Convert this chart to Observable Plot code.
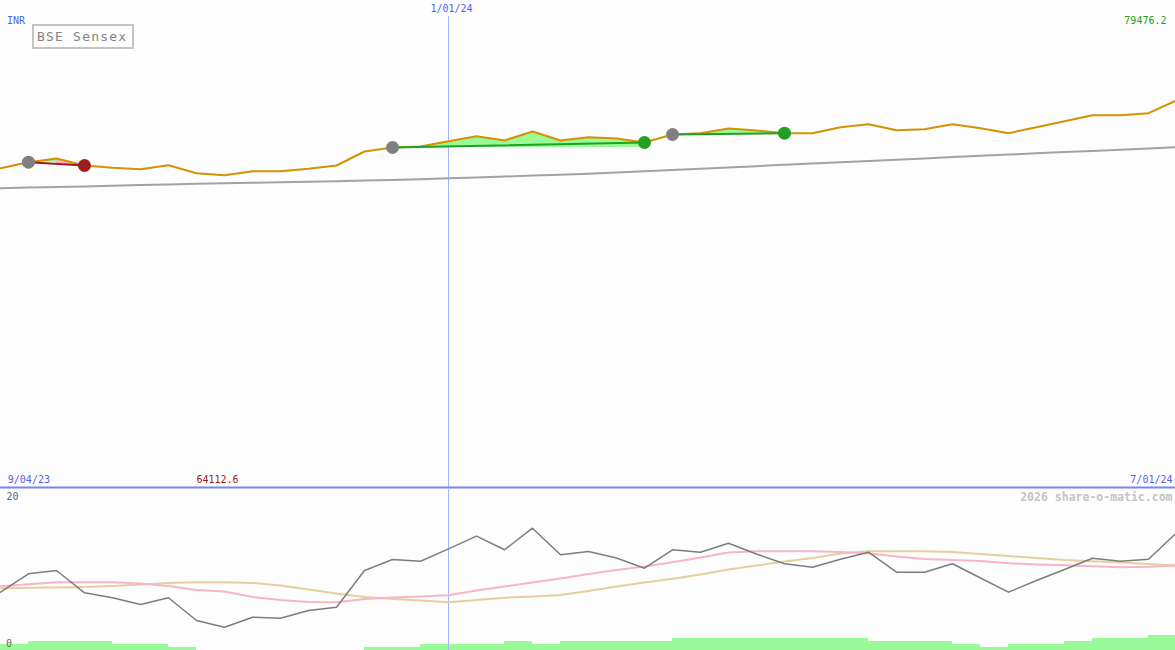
<!DOCTYPE html>
<html><head><meta charset="utf-8">
<script src="https://cdn.jsdelivr.net/npm/d3@7"></script>
<script src="https://cdn.jsdelivr.net/npm/@observablehq/plot@0.6"></script>
<style>
html,body{margin:0;padding:0;background:#fcfdfc;}
#wrap{position:relative;width:1175px;height:650px;overflow:hidden;background:#fcfdfc;}
#wrap svg{display:block;}
#title{position:absolute;left:32px;top:24px;width:102px;height:25px;box-sizing:border-box;border:2px solid #c4c4c4;color:#858585;font:13px "DejaVu Sans Mono",monospace;letter-spacing:1.2px;line-height:21px;padding-left:3px;white-space:nowrap;}
</style></head><body>
<div id="wrap"><div id="title">BSE Sensex</div></div>
<script>
// ---- data (weekly) ----
const close = [65565, 66797, 67557, 66119, 65647, 65360, 66181, 64538, 64112.6, 64949,
  64949, 65442, 66119, 68994, 69816, 70021, 71110, 72137, 71254, 73101,
  71254, 71931, 71664, 70842, 72485, 72752, 73717, 73306, 72752, 72752,
  73984, 74600, 73368, 73574, 74600, 73779, 72752, 73984, 75216, 76448,
  76448, 76859, 79476.2];
const movingAvg = [61458, 61580, 61700, 61830, 61960, 62090, 62230, 62362, 62470, 62580,
  62690, 62800, 62910, 63020, 63142, 63300, 63480, 63670, 63860, 64050,
  64230, 64415, 64660, 64920, 65180, 65450, 65720, 65990, 66263, 66530,
  66790, 67060, 67320, 67580, 67850, 68111, 68360, 68620, 68870, 69120,
  69370, 69620, 69877];
const oscillator = [7.29, 9.59, 10.0, 7.21, 6.59, 5.75, 6.59, 3.75, 2.91, 4.16,
  4.04, 5.0, 5.41, 10.0, 11.38, 11.16, 12.71, 14.29, 12.59, 15.29,
  11.96, 12.38, 11.56, 10.29, 12.59, 12.29, 13.41, 12.06, 10.84, 10.41,
  11.4, 12.29, 9.79, 9.79, 10.84, 9.06, 7.29, 8.75, 10.13, 11.54,
  11.16, 11.41, 14.71];
const pinkSignal = [8.04, 8.29, 8.54, 8.54, 8.54, 8.38, 8.06, 7.56, 7.38, 6.69,
  6.31, 6.06, 6.04, 6.44, 6.63, 6.75, 6.91, 7.5, 8.0, 8.5,
  9.0, 9.56, 10.06, 10.5, 11.04, 11.63, 12.25, 12.41, 12.41, 12.41,
  12.31, 12.13, 11.75, 11.44, 11.31, 11.19, 10.91, 10.75, 10.66, 10.54,
  10.41, 10.48, 10.63];
const tanSignal = [7.79, 7.84, 7.88, 7.94, 8.06, 8.25, 8.44, 8.54, 8.54, 8.44,
  8.13, 7.63, 7.13, 6.69, 6.44, 6.25, 6.04, 6.31, 6.59, 6.75,
  6.94, 7.44, 8.0, 8.5, 8.96, 9.5, 10.13, 10.63, 11.13, 11.56,
  12.13, 12.41, 12.41, 12.41, 12.31, 12.06, 11.81, 11.56, 11.31, 11.16,
  11.0, 10.81, 10.63];
const volumeLevel = [2, 3, 3, 3, 2, 2, 1, 0, 0, 0, 0, 0, 0, 1, 1, 2, 2, 2, 3, 2,
  3, 3, 3, 3, 4, 4, 4, 4, 4, 4, 4, 3, 3, 3, 2, 1, 2, 2, 3, 4, 4, 5, 5];
const signals = [
  {start: 1, end: 3, kind: "sell"},
  {start: 14, end: 23, kind: "buy"},
  {start: 24, end: 28, kind: "buy"}
];
const dateLabels = {start: "9/04/23", mid: "1/01/24", end: "7/01/24"};
const midWeek = 16;
const lowLabel = "64112.6", highLabel = "79476.2", currency = "INR";

// ---- derived tables ----
const idx = close.map((d, i) => i);
const greenFill = [], pinkFill = [], trendLines = [];
signals.forEach((s, k) => {
  const base = close[s.start];
  trendLines.push({x: s.start, y: close[s.start], k, kind: s.kind});
  trendLines.push({x: s.end, y: close[s.end], k, kind: s.kind});
  if (s.kind === "buy") {
    for (let i = s.start; i <= s.end; i++) greenFill.push({x: i, y1: base, y2: close[i], k});
  } else {
    greenFill.push({x: s.start, y1: base, y2: close[s.start], k});
    greenFill.push({x: s.start + 1, y1: base, y2: close[s.start + 1], k});
    const slope = (close[s.end] - close[s.start]) / (s.end - s.start);
    for (let i = s.start + 1; i <= s.end; i++)
      pinkFill.push({x: i, y1: close[s.start] + slope * (i - s.start), y2: close[i], k});
  }
});
const startDots = signals.map(s => ({x: s.start, y: close[s.start]}));
const endDots = signals.map(s => ({x: s.end, y: close[s.end], kind: s.kind}));

const BLUE = "#5064ee", FONT = "DejaVu Sans Mono";

const topPlot = Plot.plot({
  width: 1175, height: 489, margin: 0,
  x: {domain: [0, 42], range: [0, 1176], axis: null},
  y: {domain: [0, 100000], range: [487, 0], axis: null},
  style: {background: "transparent", fontFamily: FONT, fontSize: "10px", overflow: "visible"},
  marks: [
    Plot.ruleX([midWeek], {y1: 0, y2: 96700, stroke: "#a3b3ff", strokeWidth: 1}),
    Plot.line(idx, {x: i => i, y: i => movingAvg[i], stroke: "#a3a3a3", strokeWidth: 2}),
    Plot.areaY(greenFill, {x: "x", y1: "y1", y2: "y2", z: "k", fill: "#98fb98"}),
    Plot.areaY(pinkFill, {x: "x", y1: "y1", y2: "y2", z: "k", fill: "#ffb6c8"}),
    Plot.line(idx, {x: i => i, y: i => close[i], stroke: "#d69200", strokeWidth: 2}),
    Plot.line(trendLines, {x: "x", y: "y", z: "k", stroke: d => d.kind === "buy" ? "#22a022" : "#a01c1c", strokeWidth: 2}),
    Plot.dot(startDots, {x: "x", y: "y", r: 6.5, fill: "#808080", stroke: "none"}),
    Plot.dot(endDots, {x: "x", y: "y", r: 6.5, fill: d => d.kind === "buy" ? "#22a022" : "#a01c1c", stroke: "none"}),
    Plot.ruleY([0], {stroke: "#7886f0", strokeWidth: 2}),
    Plot.text([currency], {text: d => d, frameAnchor: "top-left", textAnchor: "start", lineAnchor: "top", dx: 6.5, dy: 16.5, fill: BLUE}),
    Plot.text([highLabel], {text: d => d, frameAnchor: "top-right", textAnchor: "end", lineAnchor: "top", dx: -9, dy: 16.5, fill: "#22a022"}),
    Plot.text([dateLabels.mid], {text: d => d, x: midWeek, frameAnchor: "top", lineAnchor: "top", dx: 3, dy: 4.5, fill: BLUE}),
    Plot.text([dateLabels.start], {text: d => d, frameAnchor: "top-left", textAnchor: "start", lineAnchor: "top", dx: 7.3, dy: 475, fill: BLUE}),
    Plot.text([lowLabel], {text: d => d, frameAnchor: "top-left", textAnchor: "start", lineAnchor: "top", dx: 196, dy: 475, fill: "#a01c1c"}),
    Plot.text([dateLabels.end], {text: d => d, frameAnchor: "top-right", textAnchor: "end", lineAnchor: "top", dx: -3, dy: 475, fill: BLUE})
  ]
});

const botPlot = Plot.plot({
  width: 1175, height: 161, margin: 0,
  x: {domain: [0, 42], range: [0, 1176], axis: null},
  y: {domain: [0, 20], range: [161, 1], axis: null},
  style: {background: "transparent", fontFamily: FONT, fontSize: "10px", overflow: "visible"},
  marks: [
    Plot.areaY(idx, {x: i => i, y: i => volumeLevel[i] * 0.375, curve: "step-after", fill: "#98fa98"}),
    Plot.ruleX([midWeek], {stroke: "#a3b3ff", strokeWidth: 1}),
    Plot.line(idx, {x: i => i, y: i => tanSignal[i], stroke: "#e6cf9e", strokeWidth: 2}),
    Plot.line(idx, {x: i => i, y: i => pinkSignal[i], stroke: "#f8b4c9", strokeWidth: 2}),
    Plot.line(idx, {x: i => i, y: i => oscillator[i], stroke: "#7d7d7d", strokeWidth: 1.5}),
    Plot.text(["20"], {text: d => d, frameAnchor: "top-left", textAnchor: "start", lineAnchor: "top", dx: 6, dy: 3, fill: "#666"}),
    Plot.text(["0"], {text: d => d, frameAnchor: "top-left", textAnchor: "start", lineAnchor: "top", dx: 5.5, dy: 150, fill: "#666"}),
    Plot.text(["2026 share-o-matic.com"], {text: d => d, frameAnchor: "top-right", textAnchor: "end", lineAnchor: "top", dx: -3, dy: 3, fill: "#c4c4c4", fontWeight: "bold", fontSize: 11.5})
  ]
});

const wrap = document.getElementById("wrap");
wrap.insertBefore(botPlot, wrap.firstChild);
wrap.insertBefore(topPlot, wrap.firstChild);
</script>
</body></html>
